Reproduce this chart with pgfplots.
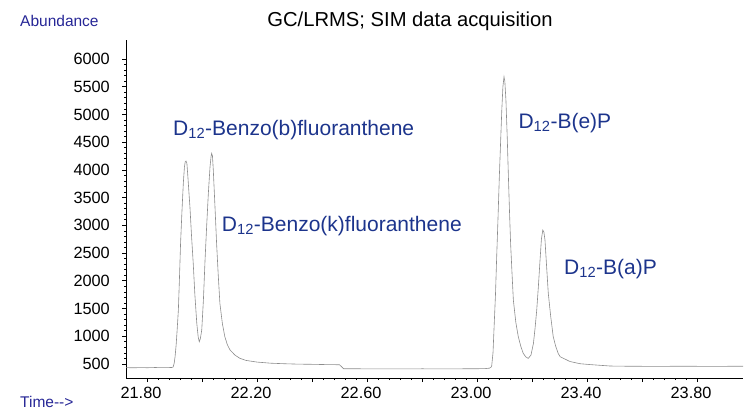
\documentclass[border=0pt]{standalone}
\usepackage{pgfplots}
\pgfplotsset{compat=1.18}
\usepackage{fontspec}
\setmainfont{Liberation Sans}
\definecolor{lblblue}{RGB}{28,52,140}
\definecolor{axblue}{RGB}{38,38,150}
\definecolor{trace}{RGB}{140,140,140}
\begin{document}
\begin{tikzpicture}
\useasboundingbox (0,0) rectangle (744pt,410pt);
\node[anchor=base, inner sep=0pt, font=\fontsize{20.2}{24}\selectfont] at (410pt,383pt) {GC/LRMS; SIM data acquisition};
\node[anchor=base west, inner sep=0pt, text=axblue, font=\fontsize{15.5}{18}\selectfont] at (20pt,383.3pt) {Abundance};
\node[anchor=base west, inner sep=0pt, text=axblue, font=\fontsize{15.5}{18}\selectfont] at (20pt,2.5pt) {Time-\kern0pt-\kern0pt>};
\begin{axis}[
  at={(126pt,32pt)}, anchor=south west,
  scale only axis, width=617pt, height=338pt,
  xmin=21.7236, xmax=23.967, ymin=248, ymax=6343,
  axis x line*=bottom, axis y line*=left,
  axis line style={line width=1pt, -},
  tick align=outside,
  xtick={21.8,22.0,22.2,22.4,22.6,22.8,23.0,23.2,23.4,23.6,23.8},
  xticklabels={21.80,,22.20,,22.60,,23.00,,23.40,,23.80},
  minor x tick num=4,
  ytick={500,1000,1500,2000,2500,3000,3500,4000,4500,5000,5500,6000},
  yticklabels={500,1000,1500,2000,2500,3000,3500,4000,4500,5000,5500,6000},
  minor y tick num=4,
  major tick length=4pt, minor tick length=2pt,
  every tick/.style={black, line width=0.8pt},
  ticklabel style={font=\fontsize{16.3}{19}\selectfont},
  /pgf/number format/assume math mode=true,
  yticklabel style={anchor=east, inner sep=0pt, xshift=-12pt},
  xticklabel style={anchor=north, inner sep=0pt, yshift=-5pt, xshift=-6pt},
]
\addplot[trace, line width=0.6pt, mark=none] table {
x y
21.724 435
21.75 432
21.78 436
21.80 433
21.83 437
21.86 434
21.88 436
21.890 438
21.895 445
21.899 520
21.902 632
21.906 850
21.910 1150
21.914 1474
21.918 2050
21.922 2676
21.927 3250
21.932 3758
21.936 4050
21.939 4148
21.942 4160
21.945 4120
21.949 3850
21.953 3550
21.956 3340
21.962 2800
21.968 2320
21.974 1750
21.981 1233
21.986 990
21.990 902
21.994 960
21.999 1113
22.005 1650
22.011 2375
22.017 3000
22.023 3576
22.029 4050
22.033 4250
22.035 4299
22.038 4250
22.041 3998
22.047 3350
22.053 2676
22.059 2100
22.065 1594
22.074 1230
22.083 992
22.092 850
22.102 752
22.120 660
22.138 602
22.16 565
22.20 535
22.25 515
22.30 505
22.35 498
22.40 495
22.45 490
22.50 487
22.515 415
22.55 415
22.60 413
22.70 412
22.80 414
22.90 413
23.00 415
23.03 418
23.045 425
23.053 452
23.058 700
23.062 1172
23.067 1750
23.071 2375
23.076 3100
23.081 3877
23.086 4550
23.090 5080
23.094 5500
23.098 5680
23.101 5600
23.105 5260
23.110 4550
23.114 3877
23.118 3250
23.122 2676
23.127 2150
23.132 1654
23.141 1250
23.150 992
23.159 820
23.168 692
23.177 630
23.186 602
23.196 660
23.205 872
23.211 1150
23.217 1474
23.223 1900
23.229 2375
23.234 2750
23.239 2916
23.243 2880
23.247 2736
23.253 2250
23.259 1775
23.268 1350
23.277 992
23.286 820
23.295 692
23.302 632
23.338 545
23.375 505
23.411 490
23.484 464
23.55 460
23.65 458
23.75 460
23.85 458
23.967 460
};
\node[anchor=base west, inner sep=0pt, text=lblblue, font=\fontsize{21}{25}\selectfont] at (axis cs:21.8945,4629) {D\textsubscript{12}-Benzo(b)fluoranthene};
\node[anchor=base west, inner sep=0pt, text=lblblue, font=\fontsize{21}{25}\selectfont] at (axis cs:22.0716,2885) {D\textsubscript{12}-Benzo(k)fluoranthene};
\node[anchor=base west, inner sep=0pt, text=lblblue, font=\fontsize{21}{25}\selectfont] at (axis cs:23.150,4750) {D\textsubscript{12}-B(e)P};
\node[anchor=base west, inner sep=0pt, text=lblblue, font=\fontsize{21}{25}\selectfont] at (axis cs:23.316,2117) {D\textsubscript{12}-B(a)P};
\end{axis}
\end{tikzpicture}
\end{document}
